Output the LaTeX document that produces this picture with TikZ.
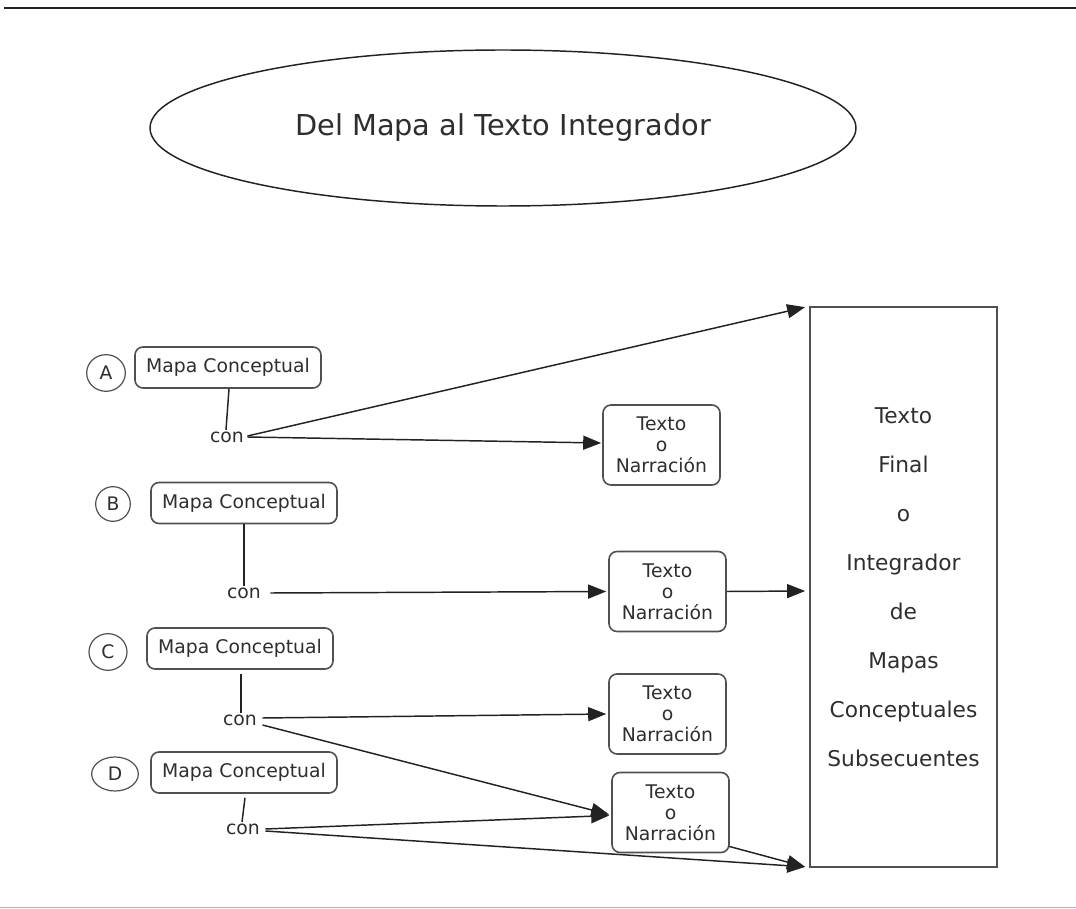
\documentclass[tikz,border=0pt]{standalone}
\usepackage{fontspec}
\setmainfont{DejaVu Sans}
\usetikzlibrary{arrows.meta,calc,shapes.geometric}
\definecolor{txt}{HTML}{2E2E2E}
\definecolor{edge}{HTML}{505050}
\definecolor{ink}{HTML}{222222}
\begin{document}
\begin{tikzpicture}[x=0.75pt,y=-0.75pt,
  mapbox/.style={draw=edge, line width=1.2pt, rounded corners=6pt, text=txt,
    minimum width=139.5pt, minimum height=30.75pt, inner sep=0pt,
    font=\fontsize{14.1}{16}\selectfont},
  textbox/.style={draw=edge, line width=1.2pt, rounded corners=6pt, text=txt,
    minimum width=87.75pt, minimum height=60pt, inner sep=0pt, align=center,
    font=\fontsize{14.1}{15.75}\selectfont},
  letter/.style={draw=edge, line width=0.9pt, ellipse, inner sep=0pt, text=txt,
    font=\fontsize{14}{15}\selectfont},
  conlabel/.style={text=txt, inner sep=1pt, font=\fontsize{14.1}{16}\selectfont},
  link/.style={draw=ink, line width=1.1pt},
  arr/.style={draw=ink, line width=1.1pt, -{Triangle[length=13.5pt,width=10.5pt]}}
]
\useasboundingbox (0,0) rectangle (1076,909);

% page rules
\draw[ink, line width=1.6pt] (4,8) -- (1076,8);
\draw[black!30, line width=1pt] (0,907.5) -- (1076,907.5);

% title
\node[ellipse, draw=ink, line width=1.1pt, minimum width=529.5pt, minimum height=117pt,
  text=txt, font=\fontsize{21.6}{24}\selectfont] (title) at (503,128) {Del Mapa al Texto Integrador};

% final text box
\node[draw=edge, line width=1.3pt, minimum width=140.25pt, minimum height=420pt,
  inner sep=0pt, align=center, text=txt, font=\fontsize{16.3}{36.75}\selectfont]
  (final) at (903.5,587) {Texto\\Final\\o\\Integrador\\de\\Mapas\\Conceptuales\\Subsecuentes};

% letters
\node[letter, minimum width=29pt, minimum height=27.5pt] (lA) at (106,373) {A};
\node[letter, minimum width=26pt, minimum height=26pt] (lB) at (113,504) {B};
\node[letter, minimum width=28.5pt, minimum height=27.5pt] (lC) at (108,652) {C};
\node[letter, minimum width=35pt, minimum height=25.5pt] (lD) at (115,774) {D};

% concept map boxes
\node[mapbox] (mA) at (228,367.5) {Mapa Conceptual};
\node[mapbox] (mB) at (244,503) {Mapa Conceptual};
\node[mapbox] (mC) at (240,648.5) {Mapa Conceptual};
\node[mapbox] (mD) at (244,772.5) {Mapa Conceptual};

% "con" labels
\node[conlabel] (cA) at (227,437) {con};
\node[conlabel] (cB) at (244,593) {con};
\node[conlabel] (cC) at (240,720) {con};
\node[conlabel] (cD) at (243,829) {con};

% text / narration boxes
\node[textbox] (tA) at (661.5,445) {Texto\\o\\Narración};
\node[textbox] (tB) at (667.5,591.5) {Texto\\o\\Narración};
\node[textbox] (tC) at (667.5,714) {Texto\\o\\Narración};
\node[textbox] (tD) at (670.5,812.5) {Texto\\o\\Narración};

% links from maps to "con"
\draw[link] ($(mA.south)+(1,0)$) -- ($(cA.north)+(-1,0)$);
\draw[link] (mB.south) -- (cB.north);
\draw[link] ($(mC.south)+(1,4)$) -- ($(cC.north)+(1,0)$);
\draw[link] ($(mD.south)+(1,4)$) -- ($(cD.north)+(-1,0)$);

% arrows
\draw[arr] ($(cA.east)+(2,-1)$) -- ($(final.north west)+(-4,1)$);
\draw[arr] ($(cA.east)+(2,0)$) -- ($(tA.west)+(-1,-2)$);
\draw[arr] ($(cB.east)+(8,0)$) -- ($(tB.west)+(-2,0)$);
\draw[arr] (tB.east) -- ($(final.west)+(-4,4)$);
\draw[arr] ($(cC.east)+(4,-2)$) -- ($(tC.west)+(-2,0)$);
\draw[arr] ($(cC.east)+(4,5)$) -- ($(tD.west)+(-2,2)$);
\draw[arr] ($(cD.east)+(4,0)$) -- ($(tD.west)+(-2,3)$);
\draw[arr] ($(cD.east)+(4,2)$) -- ($(final.south west)+(-4,-1)$);
\draw[arr] ($(tD.south east)+(-1,-7)$) -- ($(final.south west)+(-4,-1)$);
\end{tikzpicture}
\end{document}
